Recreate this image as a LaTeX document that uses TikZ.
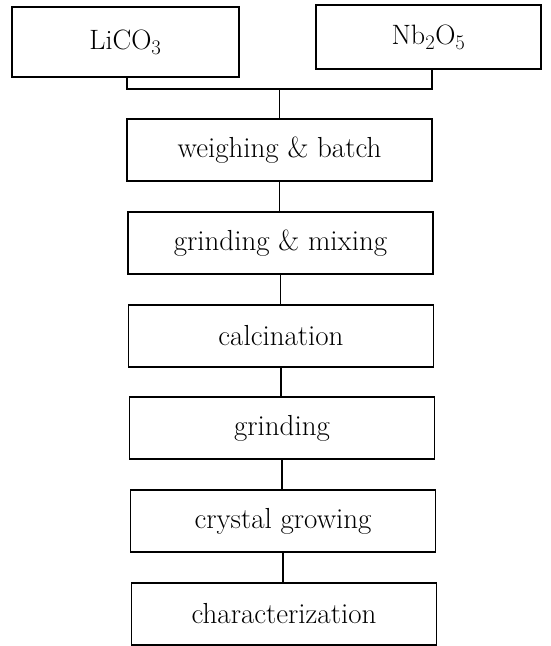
\documentclass[tikz,border=0pt]{standalone}
\begin{document}
\begin{tikzpicture}[x=1pt,y=-1pt,
  flowbox/.style={draw=black,line width=1.2pt,inner sep=0pt,minimum width=305pt,minimum height=62pt,font=\fontsize{29}{34}\selectfont},
  srcbox/.style={draw=black,line width=1.2pt,inner sep=0pt,font=\fontsize{28}{33}\selectfont},
  link/.style={draw=black,line width=1.2pt}]
\useasboundingbox (0,0) rectangle (550,646);
\node[srcbox,minimum width=227pt,minimum height=70pt] (li) at (125.5,42) {LiCO$_3$};
\node[srcbox,minimum width=225pt,minimum height=64pt] (nb) at (428.5,37) {Nb$_2$O$_5$};
\node[flowbox] (w) at (279.5,150) {weighing \& batch};
\node[flowbox] (gm) at (280.5,243) {grinding \& mixing};
\node[flowbox] (ca) at (281,336) {calcination};
\node[flowbox] (gr) at (282,428) {grinding};
\node[flowbox] (cg) at (283,521) {crystal growing};
\node[flowbox] (ch) at (284,614) {characterization};
\coordinate (jl) at (127,89);
\coordinate (jr) at (432,89);
\coordinate (jc) at (279.5,89);
\draw[link] (li.south -| jl) -- (jl) -- (jr) -- (nb.south -| jr);
\draw[link] (jc) -- (jc |- w.north);
\draw[link] (w.south) -- (w.south |- gm.north);
\draw[link] (gm.south) -- (gm.south |- ca.north);
\draw[link] (ca.south) -- (ca.south |- gr.north);
\draw[link] (gr.south) -- (gr.south |- cg.north);
\draw[link] (cg.south) -- (cg.south |- ch.north);
\end{tikzpicture}
\end{document}
